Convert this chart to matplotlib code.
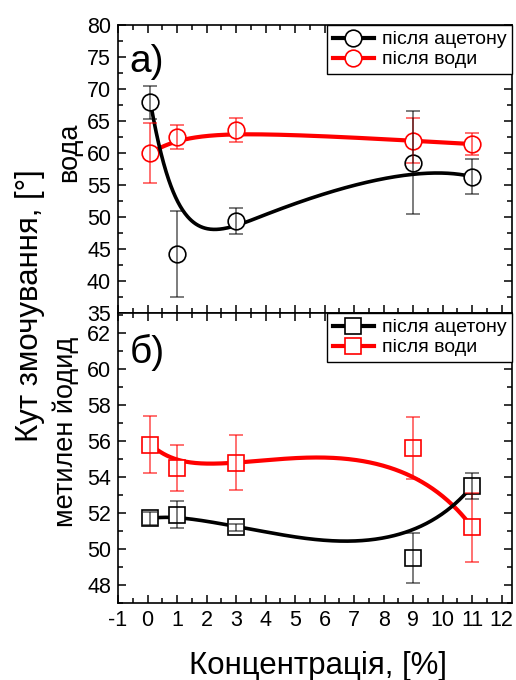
import matplotlib
matplotlib.use("Agg")
import matplotlib.pyplot as plt
import numpy as np
from matplotlib.lines import Line2D
from matplotlib.ticker import MultipleLocator

plt.rcParams["font.family"] = ["Liberation Sans", "DejaVu Sans"]
plt.rcParams["axes.unicode_minus"] = False

# concentration, %
conc = [0.1, 1, 3, 9, 11]

# water contact angle
water_acetone = [67.9, 44.2, 49.4, 58.5, 56.3]
water_acetone_err = [2.6, 6.7, 2.0, 8.0, 2.7]
water_water = [60.0, 62.5, 63.6, 61.9, 61.4]
water_water_err = [4.7, 1.8, 1.9, 3.5, 1.7]

# methylene iodide contact angle
mi_acetone = [51.7, 51.9, 51.2, 49.5, 53.5]
mi_acetone_err = [0.35, 0.75, 0.2, 1.4, 0.7]
mi_water = [55.8, 54.5, 54.8, 55.6, 51.2]
mi_water_err = [1.6, 1.3, 1.5, 1.7, 1.9]

labels = ["після ацетону", "після води"]


def bspline(xs, ys, n=400, degree=3):
    # clamped B-spline with the data points as control points
    ctrl = np.column_stack([xs, ys]).astype(float)
    m = len(ctrl)
    p = min(degree, m - 1)
    inner = np.linspace(0.0, 1.0, m - p + 1)[1:-1]
    knots = np.r_[np.zeros(p + 1), inner, np.ones(p + 1)]
    t = np.linspace(0.0, 1.0, n)
    N = np.zeros((n, len(knots) - 1))
    for i in range(len(knots) - 1):
        N[:, i] = (knots[i] <= t) & (t < knots[i + 1])
    N[-1, m - 1] = 1.0
    for d in range(1, p + 1):
        Nn = np.zeros((n, len(knots) - 1 - d))
        for i in range(len(knots) - 1 - d):
            den1 = knots[i + d] - knots[i]
            den2 = knots[i + d + 1] - knots[i + 1]
            a = (t - knots[i]) / den1 * N[:, i] if den1 > 0 else 0.0
            b = (knots[i + d + 1] - t) / den2 * N[:, i + 1] if den2 > 0 else 0.0
            Nn[:, i] = a + b
        N = Nn
    curve = N @ ctrl
    return curve[:, 0], curve[:, 1]


def draw_series(ax, x, y, err, color, marker, ms, lw, ecolor, z):
    cx, cy = bspline(x, y)
    ax.plot(cx, cy, color=color, lw=lw, zorder=z, solid_capstyle="butt")
    ax.plot(x, y, ls="none", marker=marker, ms=ms, mfc="white", mec=color,
            mew=1.2, zorder=z + 0.5)
    ax.errorbar(x, y, yerr=err, fmt="none", ecolor=ecolor, elinewidth=1.2,
                capsize=5, capthick=1.2, zorder=10 + z)


def style_axis(ax):
    ax.tick_params(which="both", direction="in", top=True, right=True,
                   labelsize=15.5, pad=5)
    ax.tick_params(which="major", length=6, width=1.1)
    ax.tick_params(which="minor", length=3.5, width=1.1)
    for s in ax.spines.values():
        s.set_linewidth(1.2)
    ax.set_xlim(-1, 12.35)
    ax.xaxis.set_major_locator(MultipleLocator(1))
    ax.xaxis.set_minor_locator(MultipleLocator(0.5))


def add_legend(ax, marker, ms):
    handles = [
        Line2D([], [], color="black", lw=3, marker=marker, ms=ms,
               mfc="white", mec="black", mew=1.2),
        Line2D([], [], color="red", lw=3, marker=marker, ms=ms,
               mfc="white", mec="red", mew=1.2),
    ]
    leg = ax.legend(handles, labels, loc="upper right", bbox_to_anchor=(1, 1),
                    borderaxespad=0, fontsize=14, handlelength=2.1,
                    handletextpad=0.4, borderpad=0.3, labelspacing=0.12,
                    fancybox=False, framealpha=1, edgecolor="black",
                    numpoints=1)
    leg.get_frame().set_linewidth(1.0)
    leg.set_zorder(20)


fig = plt.figure(figsize=(5.16, 6.8), dpi=100)
ax1 = fig.add_axes([0.2287, 0.5397, 0.7635, 0.4235])
ax2 = fig.add_axes([0.2287, 0.1132, 0.7635, 0.4265])

# water
draw_series(ax1, conc, water_water, water_water_err, "red", "o", 12, 3.0,
            (1, 0, 0, 0.65), 2)
draw_series(ax1, conc, water_acetone, water_acetone_err, "black", "o", 12, 2.6,
            (0, 0, 0, 0.6), 3)
style_axis(ax1)
ax1.set_ylim(35, 80)
ax1.yaxis.set_major_locator(MultipleLocator(5))
ax1.yaxis.set_minor_locator(MultipleLocator(2.5))
ax1.tick_params(labelbottom=False)
ax1.text(0.03, 0.87, "а)", transform=ax1.transAxes, fontsize=28,
         ha="left", va="center")
add_legend(ax1, "o", 12)

# methylene iodide
draw_series(ax2, conc, mi_water, mi_water_err, "red", "s", 11, 3.0,
            (1, 0, 0, 0.65), 2)
draw_series(ax2, conc, mi_acetone, mi_acetone_err, "black", "s", 11, 2.6,
            (0, 0, 0, 0.6), 3)
style_axis(ax2)
ax2.set_ylim(47, 63.1)
ax2.yaxis.set_major_locator(MultipleLocator(2))
ax2.yaxis.set_minor_locator(MultipleLocator(1))
ax2.text(0.03, 0.865, "б)", transform=ax2.transAxes, fontsize=28,
         ha="left", va="center")
add_legend(ax2, "s", 11)

fig.text(0.058, 0.551, "Кут змочування, [°]", rotation=90, fontsize=22.5,
         ha="center", va="center")
fig.text(0.134, 0.776, "вода", rotation=90, fontsize=19.5, ha="center",
         va="center")
fig.text(0.128, 0.365, "метилен йодид", rotation=90, fontsize=19.5,
         ha="center", va="center")
fig.text(0.616, 0.02, "Концентрація, [%]", fontsize=22.5, ha="center",
         va="center")

fig.savefig("out.png", dpi=100)
